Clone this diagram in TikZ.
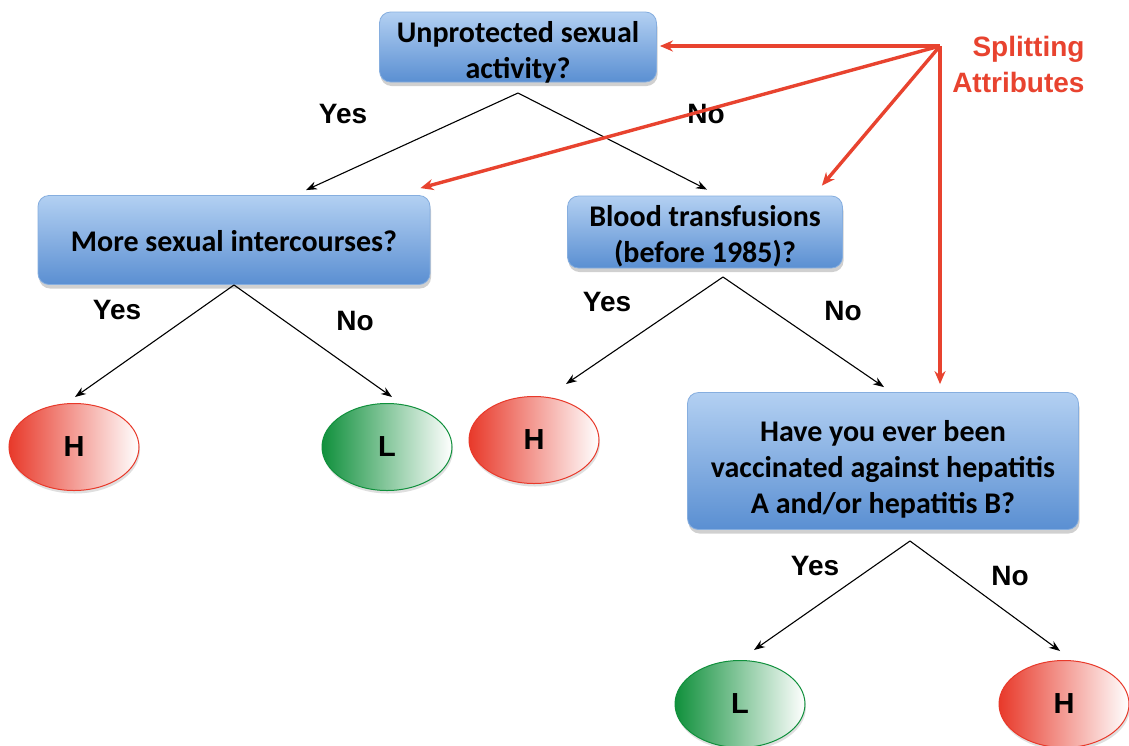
\documentclass[tikz,border=0pt]{standalone}
\usepackage{fontspec}
\setmainfont{Carlito}
\newfontfamily\labfont{Liberation Sans}
\usetikzlibrary{shapes.geometric,shadows,arrows.meta}
\definecolor{boxtop}{HTML}{B3D0F2}
\definecolor{boxbot}{HTML}{5A8FD2}
\definecolor{boxedge}{HTML}{86AEDF}
\definecolor{hred}{HTML}{E8392A}
\definecolor{lgreen}{HTML}{10903C}
\definecolor{attr}{HTML}{E8432F}
\begin{document}
\begin{tikzpicture}[x=1pt,y=-1pt,
  qbox/.style={draw=boxedge, line width=0.8pt, rounded corners=11pt,
    top color=boxtop, bottom color=boxbot, inner sep=0pt,
    drop shadow={opacity=0.3, shadow xshift=1pt, shadow yshift=-4pt, fill=black!60}},
  qtext/.style={align=center, font=\bfseries\fontsize{30}{36}\selectfont, inner sep=0pt},
  hleaf/.style={ellipse, draw=hred, line width=1pt, left color=hred, right color=white,
    minimum width=130pt, minimum height=87pt, font=\labfont\bfseries\fontsize{29}{30}\selectfont,
    drop shadow={opacity=0.25, shadow xshift=1pt, shadow yshift=-3pt, fill=black!50}},
  lleaf/.style={hleaf, draw=lgreen, left color=lgreen},
  blk/.style={-{Stealth[length=11pt,width=8pt]}, line width=1.1pt, black},
  redarr/.style={-{Stealth[length=13pt,width=11pt]}, line width=3.4pt, attr},
  lab/.style={font=\labfont\bfseries\fontsize{28}{32}\selectfont}
]
\useasboundingbox[fill=white] (0,0) rectangle (1129,745);

% question boxes
\node[qbox, minimum width=277pt, minimum height=70pt] (root) at (518,47) {};
\node[qtext] (root-t) at (518,52) {Unprotected sexual\\activity?};
\node[qbox, minimum width=392pt, minimum height=89pt] (mse) at (234,240) {};
\node[qtext] (mse-t) at (234,241) {More sexual intercourses?};
\node[qbox, minimum width=275pt, minimum height=72pt] (blood) at (705,232) {};
\node[qtext] (blood-t) at (705,236) {Blood transfusions\\(before 1985)?};
\node[qbox, minimum width=391pt, minimum height=137pt] (vacc) at (883,461) {};
\node[qtext] (vacc-t) at (883,469) {Have you ever been\\vaccinated against hepatitis\\A and/or hepatitis B?};

% leaves
\node[hleaf] (h1) at (74,447) {H};
\node[lleaf] (l1) at (387,447) {L};
\node[hleaf] (h2) at (534,440) {H};
\node[lleaf] (l2) at (740,704) {L};
\node[hleaf] (h3) at (1064,704) {H};

% branch apexes
\coordinate (a0) at (518,93);
\coordinate (a1) at (234,285);
\coordinate (a2) at (723,277);
\coordinate (a3) at (910,541);

\draw[blk] (a0) -- ([xshift=72pt,yshift=5pt]mse.north);
\draw[blk] (a0) -- ([xshift=2pt,yshift=6pt]blood.north);
\draw[blk] (a1) -- ([xshift=1pt,yshift=6pt]h1.north);
\draw[blk] (a1) -- ([xshift=5pt,yshift=6pt]l1.north);
\draw[blk] (a2) -- ([xshift=32pt,yshift=12pt]h2.north);
\draw[blk] (a2) -- ([xshift=1pt,yshift=5pt]vacc.north);
\draw[blk] (a3) -- ([xshift=14pt,yshift=10pt]l2.north);
\draw[blk] (a3) -- ([xshift=-4pt,yshift=9pt]h3.north);

% branch labels
\node[lab] (y0) at (343,114) {Yes};
\node[lab] (n0) at (706,114) {No};
\node[lab] (y1) at (117,310) {Yes};
\node[lab] (n1) at (355,321) {No};
\node[lab] (y2) at (607,302) {Yes};
\node[lab] (n2) at (843,311) {No};
\node[lab] (y3) at (815,566) {Yes};
\node[lab] (n3) at (1010,576) {No};

% splitting attributes
\node[lab, text=attr, align=right, anchor=east, font=\labfont\bfseries\fontsize{28}{36}\selectfont] (sa) at (1088,64) {Splitting\\Attributes};
\coordinate (hub) at (940,46);
\draw[redarr] (hub) -- ([xshift=3pt,yshift=1pt]root.east);
\draw[redarr] (hub) -- ([xshift=-10pt,yshift=7pt]mse.north east);
\draw[redarr] (hub) -- ([xshift=-21pt,yshift=10pt]blood.north east);
\draw[redarr] (hub) -- ([xshift=57pt,yshift=8pt]vacc.north);
\end{tikzpicture}
\end{document}
